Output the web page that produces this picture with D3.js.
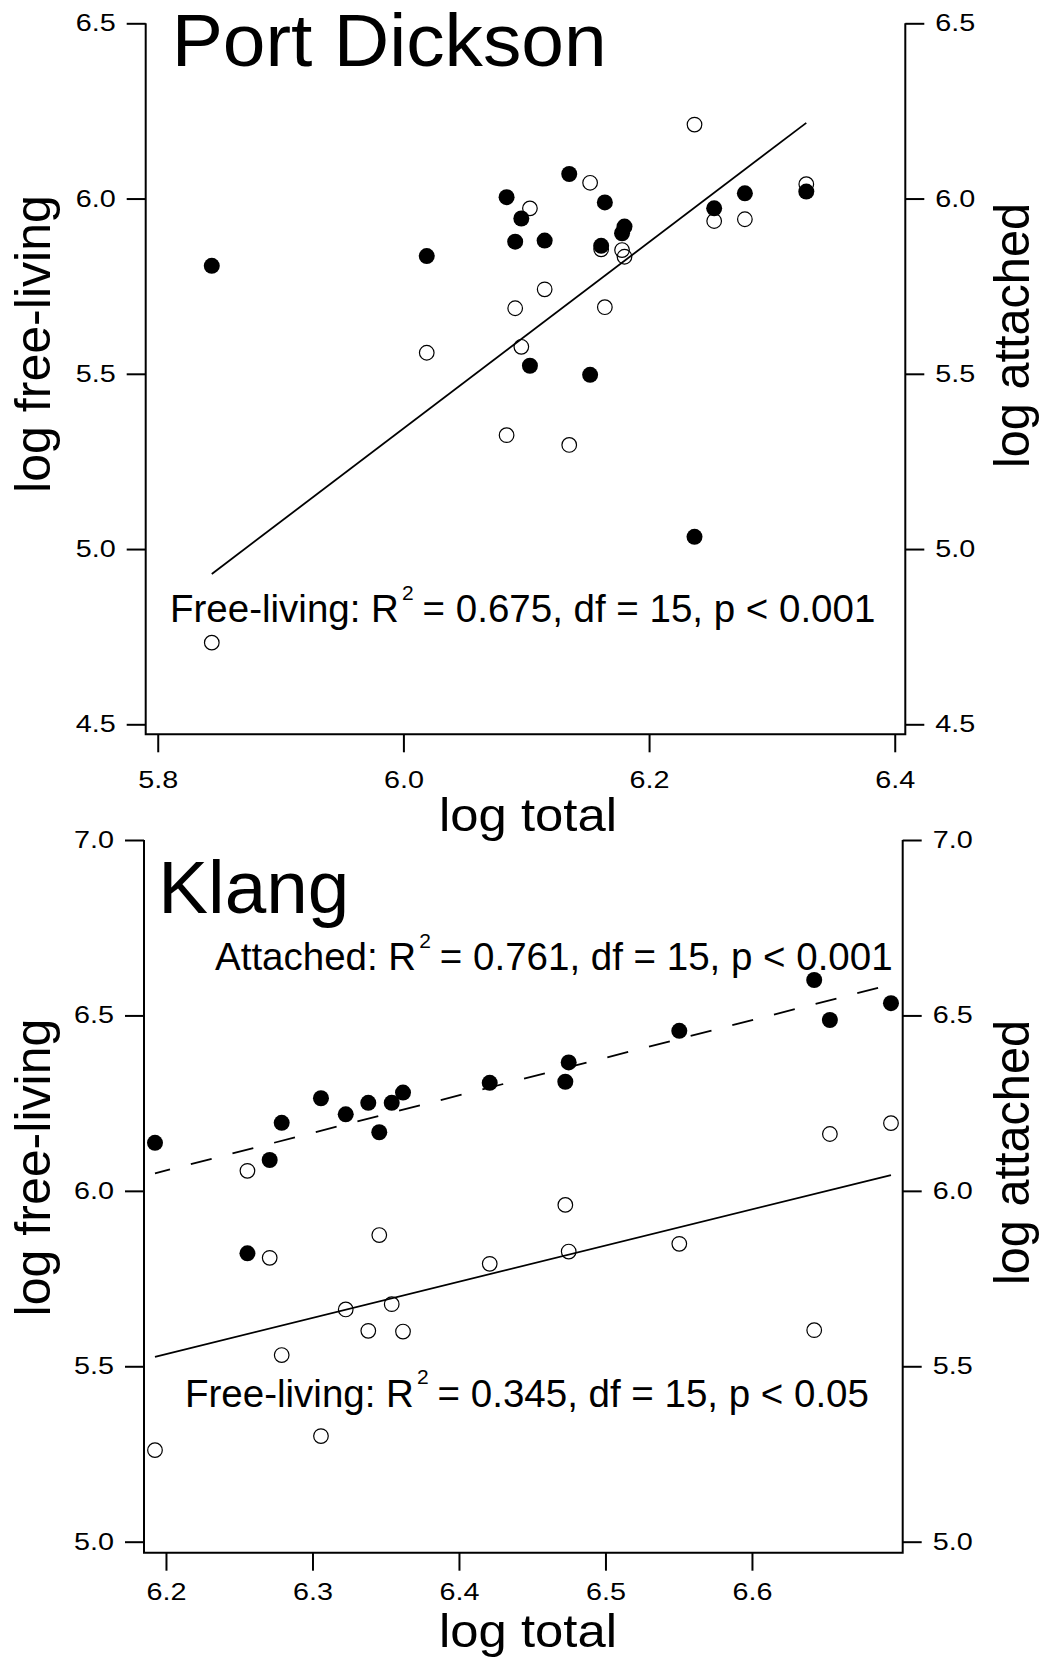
<!DOCTYPE html>
<html>
<head>
<meta charset="utf-8">
<script src="https://cdn.jsdelivr.net/npm/d3@7"></script>
<style>
  body { margin: 0; background: #fff; }
  svg { display: block; }
  text { font-family: "Liberation Sans", Arial, Helvetica, sans-serif; fill: #000; }
</style>
</head>
<body>
<svg id="chart" width="1064" height="1658"></svg>
<script>
// ---------------- DATA ----------------
// Port Dickson
const pdTotal    = [5.844, 6.019, 6.084, 6.091, 6.096, 6.103, 6.115, 6.135, 6.152, 6.161, 6.164, 6.178, 6.180, 6.237, 6.253, 6.278, 6.328];
const pdAttached = [5.808, 5.836, 6.004, 5.877, 5.943, 5.523, 5.880, 6.070, 5.497, 5.865, 5.989, 5.901, 5.920, 5.035, 5.972, 6.015, 6.020];
const pdFree     = [4.733, 5.560, 5.325, 5.687, 5.577, 5.972, 5.741, 5.297, 6.045, 5.855, 5.690, 5.853, 5.834, 6.211, 5.936, 5.941, 6.041];
const pdFreeFit  = [4.929, 6.216];          // fitted free-living line at min / max total
const pdXTicks   = [5.8, 6.0, 6.2, 6.4];
const pdYTicks   = [4.5, 5.0, 5.5, 6.0, 6.5];

// Klang
const klTotal    = [6.1925, 6.2556, 6.2708, 6.279, 6.3058, 6.3227, 6.3381, 6.3456, 6.3541, 6.3618, 6.421, 6.4726, 6.4749, 6.5504, 6.6425, 6.6532, 6.6949];
const klAttached = [6.137, 5.822, 6.088, 6.194, 6.264, 6.218, 6.251, 6.167, 6.251, 6.280, 6.308, 6.311, 6.366, 6.456, 6.601, 6.487, 6.535];
const klFree     = [5.261, 6.057, 5.809, 5.532, 5.301, 5.662, 5.601, 5.874, 5.677, 5.599, 5.792, 5.960, 5.827, 5.849, 5.603, 6.162, 6.193];
const klFreeFit  = [5.527, 6.045];
const klAttFit   = [6.050, 6.588];
const klXTicks   = [6.2, 6.3, 6.4, 6.5, 6.6];
const klYTicks   = [5.0, 5.5, 6.0, 6.5, 7.0];

// ---------------- DRAW ----------------
const svg = d3.select("#chart");
svg.append("rect").attr("width", 1064).attr("height", 1658).attr("fill", "#fff");
const fmt = d3.format(".1f");

function styleAxis(sel) {
  sel.attr("font-family", null).attr("font-size", null);
  sel.select(".domain").remove();
  sel.selectAll(".tick line").attr("stroke", "#000").attr("stroke-width", 2);
  sel.selectAll(".tick text")
    .style("font-size", "23.5px")
    .attr("textLength", 40)
    .attr("lengthAdjust", "spacingAndGlyphs");
}

function annotation(g, x0, y0, label, rest) {
  const t1 = g.append("text").attr("x", x0).attr("y", y0).style("font-size", "38.5px").text(label + "R");
  const w1 = t1.node().getComputedTextLength();
  const t2 = g.append("text").attr("x", x0 + w1 + 3).attr("y", y0 - 22.5).style("font-size", "21px").text("2");
  const w2 = t2.node().getComputedTextLength();
  g.append("text").attr("x", x0 + w1 + 3 + w2 + 9).attr("y", y0).style("font-size", "38.5px").text(rest);
}

function panel(c) {
  const x = d3.scaleLinear().domain(c.xDomain).range([c.left, c.right]);
  const y = d3.scaleLinear().domain(c.yDomain).range([c.yBottom, c.yTop]);
  const g = svg.append("g");

  // frame: left axis, bottom, right axis (open at top)
  g.append("path")
    .attr("d", `M${c.left},${c.yTop}V${c.frameBottom}H${c.right}V${c.yTop}`)
    .attr("fill", "none").attr("stroke", "#000").attr("stroke-width", 2);

  const axL = g.append("g").attr("transform", `translate(${c.left},0)`)
    .call(d3.axisLeft(y).tickValues(c.yTicks).tickFormat(fmt).tickSize(19).tickPadding(11));
  styleAxis(axL);
  const axR = g.append("g").attr("transform", `translate(${c.right},0)`)
    .call(d3.axisRight(y).tickValues(c.yTicks).tickFormat(fmt).tickSize(19).tickPadding(11));
  styleAxis(axR);
  const axB = g.append("g").attr("transform", `translate(0,${c.frameBottom})`)
    .call(d3.axisBottom(x).tickValues(c.xTicks).tickFormat(fmt).tickSize(18).tickPadding(c.xPad));
  styleAxis(axB);

  // fitted lines
  const xr = d3.extent(c.total);
  const line = d3.line().x(d => x(d[0])).y(d => y(d[1]));
  g.append("path").datum([[xr[0], c.freeFit[0]], [xr[1], c.freeFit[1]]])
    .attr("d", line).attr("fill", "none").attr("stroke", "#000").attr("stroke-width", 1.8);
  if (c.attFit) {
    g.append("path").datum([[xr[0], c.attFit[0]], [xr[1], c.attFit[1]]])
      .attr("d", line).attr("fill", "none").attr("stroke", "#000").attr("stroke-width", 1.8)
      .attr("stroke-dasharray", "21.5,21.5").attr("stroke-dashoffset", 6);
  }

  // points: open (free-living) then filled (attached)
  g.append("g").selectAll("circle").data(c.total.map((t, i) => [t, c.free[i]])).join("circle")
    .attr("cx", d => x(d[0])).attr("cy", d => y(d[1])).attr("r", 7.3)
    .attr("fill", "none").attr("stroke", "#000").attr("stroke-width", 1.2);
  g.append("g").selectAll("circle").data(c.total.map((t, i) => [t, c.attached[i]])).join("circle")
    .attr("cx", d => x(d[0])).attr("cy", d => y(d[1])).attr("r", 8).attr("fill", "#000");

  // titles
  g.append("text").attr("x", c.titleX).attr("y", c.titleY).style("font-size", "74px")
    .attr("textLength", c.titleLen).attr("lengthAdjust", "spacingAndGlyphs").text(c.title);
  g.append("text").attr("x", 528).attr("y", c.xTitleY).attr("text-anchor", "middle")
    .style("font-size", "46px").attr("textLength", 178).attr("lengthAdjust", "spacingAndGlyphs").text("log total");
  g.append("text").attr("transform", `translate(50,${c.yLeftC}) rotate(-90)`).attr("text-anchor", "middle")
    .style("font-size", "50px").attr("textLength", 298).attr("lengthAdjust", "spacingAndGlyphs").text("log free-living");
  g.append("text").attr("transform", `translate(1028.5,${c.yRightC}) rotate(-90)`).attr("text-anchor", "middle")
    .style("font-size", "50px").attr("textLength", 265).attr("lengthAdjust", "spacingAndGlyphs").text("log attached");

  c.notes.forEach(n => annotation(g, n.x, n.y, n.label, n.rest));
}

panel({
  xDomain: [5.7902, 6.4086], left: 145.7, right: 905.3,
  yDomain: [4.5, 6.5], yBottom: 724.3, yTop: 23.3, frameBottom: 734.3, xPad: 19,
  xTicks: pdXTicks, yTicks: pdYTicks,
  total: pdTotal, attached: pdAttached, free: pdFree, freeFit: pdFreeFit, attFit: null,
  title: "Port Dickson", titleX: 171.7, titleY: 65.7, titleLen: 435,
  xTitleY: 831, yLeftC: 344, yRightC: 335.5,
  notes: [{ x: 170, y: 622.3, label: "Free-living: ", rest: "= 0.675, df = 15, p < 0.001" }]
});

panel({
  xDomain: [6.185, 6.7029], left: 144, right: 902.7,
  yDomain: [5.0, 7.0], yBottom: 1541.7, yTop: 840, frameBottom: 1552.7, xPad: 13,
  xTicks: klXTicks, yTicks: klYTicks,
  total: klTotal, attached: klAttached, free: klFree, freeFit: klFreeFit, attFit: klAttFit,
  title: "Klang", titleX: 158.3, titleY: 913.3, titleLen: 191,
  xTitleY: 1646.5, yLeftC: 1167.5, yRightC: 1152.5,
  notes: [
    { x: 215, y: 970, label: "Attached: ", rest: "= 0.761, df = 15, p < 0.001" },
    { x: 185, y: 1406.7, label: "Free-living: ", rest: "= 0.345, df = 15, p < 0.05" }
  ]
});
</script>
</body>
</html>
